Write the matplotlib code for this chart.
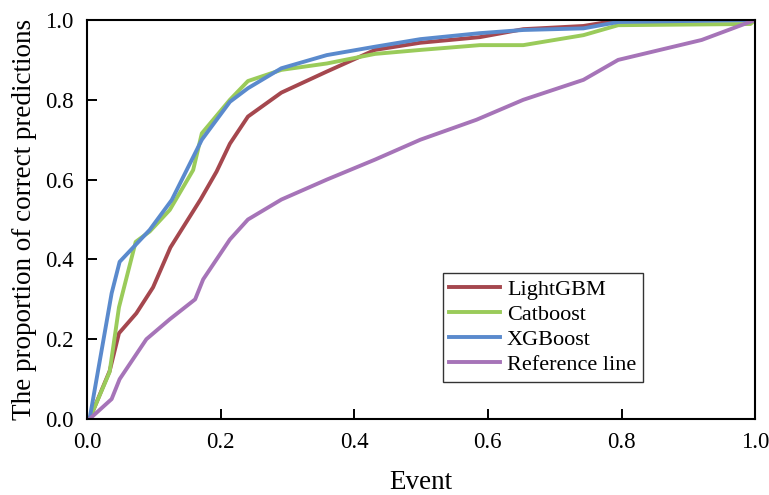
import matplotlib
matplotlib.use("Agg")
import matplotlib.pyplot as plt

plt.rcParams['font.family'] = ['Liberation Serif', 'DejaVu Serif']

# Données
x_light = [0.004, 0.034, 0.048, 0.074, 0.099, 0.125, 0.170, 0.194, 0.214, 0.241, 0.291,
           0.358, 0.431, 0.499, 0.588, 0.653, 0.743, 0.790, 1.0]
y_light = [0.0, 0.12, 0.215, 0.265, 0.33, 0.43, 0.55, 0.62, 0.69, 0.758, 0.818,
           0.87, 0.925, 0.943, 0.957, 0.977, 0.985, 0.998, 1.0]

x_cat = [0.004, 0.034, 0.048, 0.073, 0.094, 0.124, 0.159, 0.172, 0.214, 0.241, 0.291,
         0.359, 0.431, 0.499, 0.588, 0.653, 0.743, 0.795, 0.993, 1.0]
y_cat = [0.0, 0.118, 0.28, 0.444, 0.47, 0.524, 0.624, 0.716, 0.80, 0.847, 0.875,
         0.891, 0.915, 0.925, 0.937, 0.937, 0.962, 0.987, 0.99, 1.0]

x_xgb = [0.004, 0.037, 0.049, 0.094, 0.127, 0.172, 0.214, 0.241, 0.291, 0.359, 0.431,
         0.499, 0.588, 0.653, 0.743, 0.795, 1.0]
y_xgb = [0.0, 0.315, 0.394, 0.474, 0.549, 0.70, 0.795, 0.829, 0.879, 0.912, 0.933,
         0.952, 0.967, 0.975, 0.979, 0.995, 1.0]

x_ref = [0.004, 0.037, 0.049, 0.089, 0.124, 0.162, 0.174, 0.214, 0.241, 0.291, 0.359,
         0.431, 0.499, 0.583, 0.653, 0.743, 0.795, 0.92, 1.0]
y_ref = [0.0, 0.05, 0.10, 0.20, 0.25, 0.30, 0.35, 0.45, 0.50, 0.55, 0.60,
         0.65, 0.70, 0.75, 0.80, 0.85, 0.90, 0.95, 1.0]

fig = plt.figure(figsize=(7.69, 4.95), dpi=100)
ax = fig.add_axes([0.113, 0.1535, 0.869, 0.8061])

lw = 2.8
ax.plot(x_light, y_light, color='#A5474E', lw=lw, label='LightGBM')
ax.plot(x_cat, y_cat, color='#9ACB5A', lw=lw, label='Catboost')
ax.plot(x_xgb, y_xgb, color='#5A8ACD', lw=lw, label='XGBoost')
ax.plot(x_ref, y_ref, color='#A674B8', lw=lw, label='Reference line')

ax.set_xlim(0, 1)
ax.set_ylim(0, 1)
ax.set_xticks([0, 0.2, 0.4, 0.6, 0.8, 1.0])
ax.set_yticks([0, 0.2, 0.4, 0.6, 0.8, 1.0])
ax.xaxis.set_major_formatter(matplotlib.ticker.FormatStrFormatter('%.1f'))
ax.yaxis.set_major_formatter(matplotlib.ticker.FormatStrFormatter('%.1f'))
ax.tick_params(direction='in', length=7, width=1.4, labelsize=16.5, pad=9.5)

for s in ax.spines.values():
    s.set_linewidth(1.5)

ax.set_xlabel("Event", fontsize=19.5, labelpad=12)
ax.set_ylabel("The proportion of correct predictions", fontsize=19.5, labelpad=6)

leg = ax.legend(loc='upper right', bbox_to_anchor=(0.832, 0.366), borderaxespad=0,
                fontsize=16, frameon=True, fancybox=False, edgecolor='black',
                handlelength=2.3, handletextpad=0.3, labelspacing=0.2,
                borderpad=0.3)
leg.get_frame().set_linewidth(1.0)

plt.savefig("out.png", dpi=100)
